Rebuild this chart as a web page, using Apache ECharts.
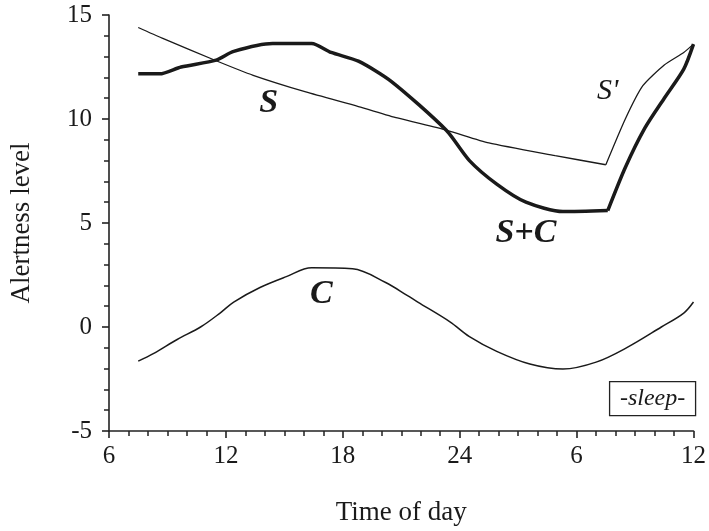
<!DOCTYPE html>
<html>
<head>
<meta charset="utf-8">
<script src="https://cdn.jsdelivr.net/npm/echarts@6/dist/echarts.min.js"></script>
<style>
  html, body { margin: 0; padding: 0; background: #fff; }
  #main { width: 709px; height: 531px; }
</style>
</head>
<body>
<div id="main"></div>
<script>
// hours run 6..36 (24 = midnight, 30 = 6 next morning)
var sWake = [[7.5,14.4],[8.7,13.9],[11.5,12.8],[13.4,12.1],[16.1,11.3],[18.8,10.6],[20.8,10.05],[23.3,9.47],[25.5,8.85],[28.9,8.24],[31.5,7.8]];
var sSleep = [[31.5,7.8],[32.5,10.0],[33.4,11.6],[34.5,12.6],[35.5,13.2],[36,13.6]];
var sPlusCWake = [[7.5,12.17],[8.6,12.17],[9.7,12.5],[11.5,12.83],[12.4,13.25],[14.4,13.63],[16.4,13.63],[17.4,13.2],[18.8,12.78],[20.5,11.8],[23.3,9.47],[24.5,8.0],[25.9,6.87],[27.4,6.0],[29.3,5.55],[31.6,5.6]];
var sPlusCSleep = [[31.6,5.6],[32.5,7.67],[33.5,9.56],[34.5,11.0],[35.5,12.4],[36,13.6]];
var cCurve = [[7.5,-1.64],[8.3,-1.27],[9.5,-0.6],[10.7,0.0],[11.7,0.67],[12.4,1.2],[13.75,1.9],[15.1,2.42],[16.4,2.85],[18.5,2.8],[20.2,2.14],[21.3,1.52],[21.85,1.2],[23.5,0.25],[24.5,-0.46],[25.9,-1.17],[27.6,-1.78],[29.3,-2.02],[31.0,-1.69],[32.6,-0.98],[34.35,0.0],[35.5,0.67],[36,1.2]];

var xTicks = [6, 12, 18, 24, 30, 36];
var xTickLabels = ['6', '12', '18', '24', '6', '12'];

var FONT = '"Liberation Serif", "DejaVu Serif", serif';
var INK = '#1a1a1a';

var chart = echarts.init(document.getElementById('main'));

function lineSeries(name, data, width, smooth) {
    return {
        name: name,
        type: 'line',
        data: data,
        showSymbol: false,
        symbol: 'none',
        smooth: smooth,
        lineStyle: { color: INK, width: width },
        z: width > 2 ? 3 : 2
    };
}

chart.setOption({
    animation: false,
    backgroundColor: '#fff',
    grid: { left: 107, right: 10, top: 15, bottom: 93 },
    xAxis: {
        type: 'value',
        min: 6, max: 36, interval: 6,
        name: 'Time of day',
        nameLocation: 'middle',
        nameGap: 68,
        nameTextStyle: { fontFamily: FONT, fontSize: 27, color: INK },
        axisLine: { onZero: false, lineStyle: { color: '#222', width: 1.6 } },
        axisTick: { length: 7, lineStyle: { color: '#222', width: 1.6 } },
        minorTick: { show: true, splitNumber: 6, length: 5, lineStyle: { color: '#222', width: 1.5 } },
        axisLabel: {
            fontFamily: FONT, fontSize: 25, color: INK, margin: 13,
            formatter: function (v) {
                var i = xTicks.indexOf(v);
                return i >= 0 ? xTickLabels[i] : '';
            }
        },
        splitLine: { show: false }
    },
    yAxis: {
        type: 'value',
        min: -5, max: 15, interval: 5,
        name: 'Alertness level',
        nameLocation: 'middle',
        nameGap: 74,
        nameTextStyle: { fontFamily: FONT, fontSize: 27, color: INK },
        axisLine: { show: true, lineStyle: { color: '#222', width: 1.6 } },
        axisTick: { show: true, length: 7, lineStyle: { color: '#222', width: 1.6 } },
        minorTick: { show: true, splitNumber: 5, length: 5, lineStyle: { color: '#222', width: 1.5 } },
        axisLabel: { fontFamily: FONT, fontSize: 25, color: INK, margin: 17 },
        splitLine: { show: false }
    },
    series: [
        lineSeries('S', sWake, 1.3, 0.2),
        lineSeries("S'", sSleep, 1.3, 0.2),
        lineSeries('S+C', sPlusCWake, 3.5, 0.25),
        lineSeries('S+C sleep', sPlusCSleep, 3.5, 0.25),
        lineSeries('C', cCurve, 1.5, 0.35)
    ]
});

// curve labels, placed in data coordinates
var notes = [
    { text: 'S', at: [14.2, 10.74], bold: true, size: 34 },
    { text: 'S+C', at: [27.4, 4.5], bold: true, size: 34 },
    { text: "S'", at: [31.6, 11.36], bold: false, size: 30 },
    { text: 'C', at: [16.9, 1.6], bold: true, size: 34 }
];
var graphics = notes.map(function (n) {
    var p = chart.convertToPixel({ gridIndex: 0 }, n.at);
    return {
        type: 'text',
        x: p[0], y: p[1],
        style: {
            text: n.text,
            font: 'italic ' + (n.bold ? 'bold ' : '') + n.size + 'px ' + FONT,
            fill: INK,
            align: 'center',
            verticalAlign: 'middle'
        },
        z: 10
    };
});

var sleepCenter = chart.convertToPixel({ gridIndex: 0 }, [33.9, -3.44]);
graphics.push({
    type: 'rect',
    shape: { x: sleepCenter[0] - 43, y: sleepCenter[1] - 17, width: 86, height: 34 },
    style: { fill: '#fff', stroke: '#222', lineWidth: 1.3 },
    z: 10
});
graphics.push({
    type: 'text',
    x: sleepCenter[0], y: sleepCenter[1],
    style: {
        text: '-sleep-',
        font: 'italic 24px ' + FONT,
        fill: INK,
        align: 'center',
        verticalAlign: 'middle'
    },
    z: 11
});

chart.setOption({ graphic: graphics });
</script>
</body>
</html>
